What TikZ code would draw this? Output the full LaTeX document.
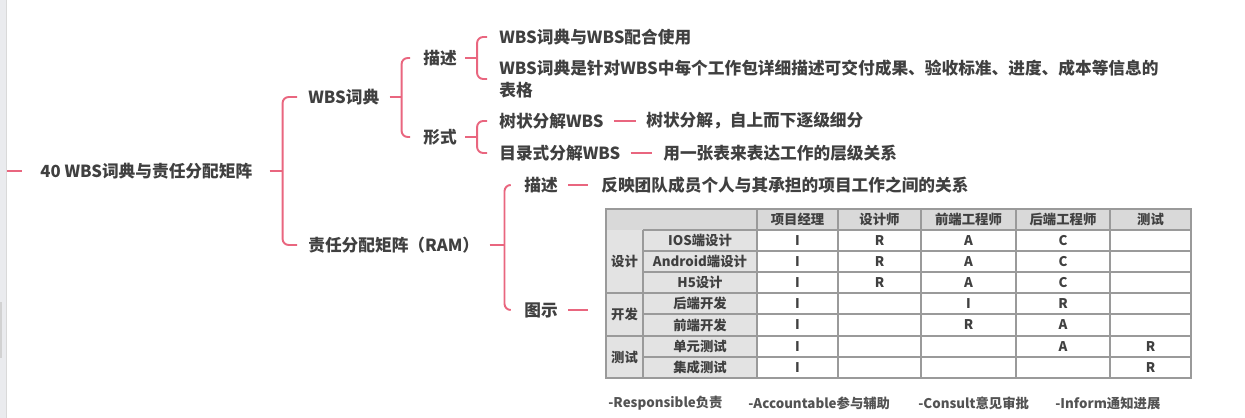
\documentclass[tikz,border=0pt]{standalone}
\usepackage{fontspec}
\setmainfont{Noto Sans CJK SC}
\usetikzlibrary{calc}

\definecolor{linha}{HTML}{E9667F}
\definecolor{texto}{HTML}{404040}
\definecolor{cabec}{HTML}{D9D9D9}
\definecolor{lateral}{HTML}{E3E3E3}
\definecolor{grade}{HTML}{9A9A9A}
\definecolor{faixa}{HTML}{EAEBEE}

\newcommand{\fgrande}{\fontsize{9.5}{12.5}\selectfont}
\newcommand{\fpeq}{\fontsize{7.6}{9}\selectfont}

\begin{document}
\begin{tikzpicture}[x=0.02cm, y=-0.02cm]
\tikzset{
    ramo/.style={line width=1.1pt, draw=linha, rounded corners=3.5pt},
    topico/.style={anchor=west, inner sep=0pt, text=texto,
                   font=\fgrande\bfseries, align=left},
    cel/.style={inner sep=0pt, text=texto, font=\fpeq\bfseries},
    linhaGrade/.style={line width=0.6pt, draw=grade},
    legenda/.style={anchor=west, inner sep=0pt, text=texto!90, font=\fpeq\bfseries}
}
\useasboundingbox (0,0) rectangle (1245,418);

% Barra lateral
\fill[faixa] (0,0) rectangle (6,418);
\fill[gray!35] (0,302) rectangle (2,358);
\draw[gray!30, line width=0.5pt] (6.5,0) -- (6.5,418);

% Tópicos
\node[topico] (raiz) at (40,171)  {40 WBS词典与责任分配矩阵};
\node[topico] (wbs)  at (308,97)  {WBS词典};
\node[topico] (ram)  at (308,245) {责任分配矩阵（RAM）};
\node[topico] (ms1)  at (423,58)  {描述};
\node[topico] (fs)   at (423,137) {形式};
\node[topico] (d1)   at (499,37)  {WBS词典与WBS配合使用};
\node[topico] (d2)   at (499,79)  {WBS词典是针对WBS中每个工作包详细描述可交付成果、验收标准、进度、成本等信息的\\表格};
\node[topico] (f1)   at (499,121) {树状分解WBS};
\node[topico] (f1a)  at (646,121) {树状分解，自上而下逐级细分};
\node[topico] (f2)   at (499,153) {目录式分解WBS};
\node[topico] (f2a)  at (663,153) {用一张表来表达工作的层级关系};
\node[topico] (ms2)  at (524,185) {描述};
\node[topico] (fy)   at (601,185) {反映团队成员个人与其承担的项目工作之间的关系};
\node[topico] (ts)   at (524,310) {图示};
\coordinate (pai) at (7,171);
\coordinate (tab) at (606,310);

% Ligações
\draw[ramo] (pai) -- ++(15,0);
\draw[ramo] ($(raiz.east)+(17,0)$) -- ++(13,0) coordinate (j0);
\draw[ramo] ($(wbs.west)+(-11,0)$) -| (j0) |- ($(ram.west)+(-11,0)$);
\draw[ramo] ($(wbs.east)+(10,0)$) -- ++(12,0) coordinate (j1);
\draw[ramo] ($(ms1.west)+(-13,0)$) -| (j1) |- ($(fs.west)+(-13,0)$);
\draw[ramo] ($(ms1.east)+(8,0)$) -- ++(12,0) coordinate (j2);
\draw[ramo] ($(d1.west)+(-12,0)$) -| (j2) |- ($(d2.west)+(-12,0)$);
\draw[ramo] ($(fs.east)+(8,0)$) -- ++(12,0) coordinate (j3);
\draw[ramo] ($(f1.west)+(-12,0)$) -| (j3) |- ($(f2.west)+(-12,0)$);
\draw[ramo] ($(ram.east)+(10,0)$) -- ++(15,0) coordinate (j4);
\draw[ramo] ($(ms2.west)+(-14,0)$) -| (j4) |- ($(ts.west)+(-14,0)$);
\draw[ramo] ($(f1.east)+(10,0)$) -- ($(f1a.west)+(-10,0)$);
\draw[ramo] ($(f2.east)+(10,0)$) -- ($(f2a.west)+(-11,0)$);
\draw[ramo] ($(ms2.east)+(10,0)$) -- ($(fy.west)+(-13,0)$);
\draw[ramo] ($(ts.east)+(10,0)$) -- ($(tab)+(-18,0)$);

% Matriz RAM
\fill[cabec]   (606,209) rectangle (1191,230);
\fill[lateral] (606,230) rectangle (757,378);
\foreach \yy in {230,251,272,293,314,336,357}
    \draw[linhaGrade] (643,\yy) -- (1191,\yy);
\foreach \yy in {293,336}
    \draw[linhaGrade] (606,\yy) -- (643,\yy);
\foreach \xx in {757,838,921,1016,1110}
    \draw[linhaGrade] (\xx,209) -- (\xx,378);
\draw[linhaGrade] (643,230) -- (643,378);
\draw[linhaGrade] (606,209) rectangle (1191,378);

\foreach \nome/\xc [count=\i] in {项目经理/797.5, 设计师/879.5, 前端工程师/968.5, 后端工程师/1063, 测试/1150.5}
    \node[cel] (h\i) at (\xc,219.5) {\nome};
\node[cel] (g1) at (624.5,261.5) {设计};
\node[cel] (g2) at (624.5,314.5) {开发};
\node[cel] (g3) at (624.5,357)   {测试};
\foreach \nome/\yc [count=\i] in {IOS端设计/240.5, Android端设计/261.5, H5设计/282.5, 后端开发/303.5, 前端开发/325, 单元测试/346.5, 集成测试/367.5}
    \node[cel] (r\i) at (700,\yc) {\nome};
\foreach \yc/\a/\b/\c/\d/\e [count=\i] in {240.5/I/R/A/C/, 261.5/I/R/A/C/, 282.5/I/R/A/C/, 303.5/I//I/R/, 325/I//R/A/, 346.5/I///A/R, 367.5/I////R}{
    \node[cel] (v\i a) at (797.5,\yc) {\a};
    \node[cel] (v\i b) at (879.5,\yc) {\b};
    \node[cel] (v\i c) at (968.5,\yc) {\c};
    \node[cel] (v\i d) at (1063,\yc)  {\d};
    \node[cel] (v\i e) at (1150.5,\yc) {\e};
}

% Legenda
\node[legenda] (lr) at (608,403)  {-Responsible负责};
\node[legenda] (la) at (748,403)  {-Accountable参与辅助};
\node[legenda] (lc) at (918,403)  {-Consult意见审批};
\node[legenda] (li) at (1055,403) {-Inform通知进展};
\end{tikzpicture}
\end{document}
